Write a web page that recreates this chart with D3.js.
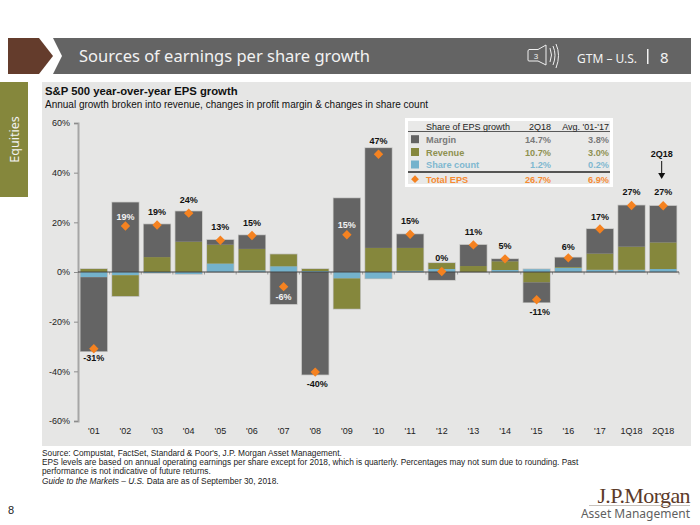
<!DOCTYPE html>
<html><head><meta charset="utf-8">
<script src="https://cdn.jsdelivr.net/npm/d3@7/dist/d3.min.js"></script>
<style>html,body{margin:0;padding:0;background:#fff}svg{display:block}text{font-family:"Liberation Sans",Arial,sans-serif}</style>
</head><body><svg id="c" width="700" height="525"></svg>
<script>
const categories=["'01","'02","'03","'04","'05","'06","'07","'08","'09","'10","'11","'12","'13","'14","'15","'16","'17","1Q18","2Q18"];
const margin=[-29.8,28,13.2,12.2,1.9,5.5,-12.9,-41.3,29.7,40.2,5.5,-3.2,8.5,0.9,-8.0,3.8,9.9,16.6,14.7];
const revenue=[1.2,-8.4,6.0,12.2,7.6,8.6,4.8,0.8,-12.2,9.7,9.2,2.4,2.4,3.5,-4.2,0.3,6.5,9.3,10.7];
const shareCount=[-2.1,-1.3,-0.4,-0.8,3.4,0.7,2.3,0.4,-2.6,-2.6,0.5,1.2,0,0.8,1.1,1.7,0.9,0.9,1.2];
const totalEps=[-30.9,18.5,18.9,23.7,12.8,14.7,-5.9,-40.3,15.0,47.4,15.2,0.2,10.9,5.3,-11.2,5.7,17.3,26.8,26.7];
const epsLabels=["-31%","19%","19%","24%","13%","15%","-6%","-40%","15%","47%","15%","0%","11%","5%","-11%","6%","17%","27%","27%"];
const yTicks=[-60,-40,-20,0,20,40,60];
const legendHeader=["Share of EPS growth","2Q18","Avg. '01-'17"];
const legendNames=["Margin","Revenue","Share count","Total EPS"];
const legend2Q18=["14.7%","10.7%","1.2%","26.7%"];
const legendAvg=["3.8%","3.0%","0.2%","6.9%"];
const footnotes=["Source: Compustat, FactSet, Standard & Poor's, J.P. Morgan Asset Management.",
"EPS levels are based on annual operating earnings per share except for 2018, which is quarterly. Percentages may not sum due to rounding. Past",
"performance is not indicative of future returns."];
// layout helpers (label nudges, px)
const labelDy=[9,-9.5,-13,-13,-13,-13,10,12,-9.5,-13.5,-13.5,-14,-13.5,-13,12,-11,-12.5,-13.5,-13.5];
const labelDx=[0,0,0,0,0,0,0,2,0,0,0,0,0,0,3,0,0,0,0];
const whiteLabel=new Set(["'02","'07","'09"]);

const COL={margin:"#646464",revenue:"#85873c",share:"#74b2cc",eps:"#f58220",panel:"#e6e6e5"};
const svg=d3.select("#c");
// header
svg.append("path").attr("d","M8,38H39L53,56L39,74H8Z").attr("fill","#643c2c");
svg.append("path").attr("d","M53,38H691V74H53L62,56Z").attr("fill","#646464");
svg.append("text").attr("x",79).attr("y",62).attr("fill","#f2f2f2").style("font-family","'Noto Sans'").style("font-size","16.5px").text("Sources of earnings per share growth");
svg.append("text").attr("x",577).attr("y",63).attr("fill","#f2f2f2").style("font-family","'Noto Sans'").style("font-size","12px").text("GTM – U.S.");
svg.append("rect").attr("x",647).attr("y",49).attr("width",1.5).attr("height",15).attr("fill","#f2f2f2");
svg.append("text").attr("x",660).attr("y",63).attr("fill","#f2f2f2").style("font-family","'Noto Sans'").style("font-size","15px").text("8");
const ic=svg.append("g").attr("fill","none").attr("stroke","#f0f0f0").attr("stroke-width",1);
ic.append("path").attr("d","M529,49.5H538L546,45V65L538,61H529Q528,61 528,60V51Q528,50 529,49.5Z");
ic.append("path").attr("d","M550,48Q553,55 550,62M553,46Q557,55 553,65M556,44Q561,55 556,68");
svg.append("text").attr("x",536).attr("y",59).attr("text-anchor","middle").attr("fill","#f0f0f0").style("font-size","8px").text("3");
// side tab
svg.append("rect").attr("x",0).attr("y",82).attr("width",28).attr("height",115).attr("fill","#85873c");
svg.append("text").attr("transform","translate(15,139.5) rotate(-90)").attr("text-anchor","middle").attr("dy","0.35em").attr("fill","#f2f2f2").style("font-family","'Noto Sans'").style("font-size","12.5px").text("Equities");
// panel
svg.append("rect").attr("x",42).attr("y",82).attr("width",649).attr("height",364).attr("fill",COL.panel);
svg.append("text").attr("x",45).attr("y",95).attr("fill","#111").style("font-weight","bold").style("font-size","11.3px").text("S&P 500 year-over-year EPS growth");
svg.append("text").attr("x",45).attr("y",108).attr("fill","#111").style("font-size","10px").text("Annual growth broken into revenue, changes in profit margin & changes in share count");

const x=d3.scaleBand().domain(categories).range([78,679]).paddingInner(0.16).paddingOuter(0.08);
const y=d3.scaleLinear().domain([-60,60]).range([421,123]);
// small category boundary ticks
svg.append("g").selectAll("line").data(categories).join("line")
 .attr("x1",d=>x(d)+x.bandwidth()+x.step()*0.08).attr("x2",d=>x(d)+x.bandwidth()+x.step()*0.08)
 .attr("y1",y(0)).attr("y2",y(0)+2.5).attr("stroke","#888").attr("stroke-width",0.8);
// y axis
const ya=svg.append("g").attr("transform","translate(78,0)").call(d3.axisLeft(y).tickValues(yTicks).tickFormat(d=>d+"%").tickSize(4).tickPadding(4));
ya.select(".domain").attr("stroke","#a6a6a6").attr("stroke-width",2);
ya.selectAll(".tick line").attr("stroke","#8c8c8c");
ya.selectAll("text").attr("fill","#222").style("font-size","9px").style("font-family","'Liberation Sans'");
// x axis labels
const xa=svg.append("g").attr("transform","translate(0,421)").call(d3.axisBottom(x).tickSize(0).tickPadding(7));
xa.select(".domain").remove();
xa.selectAll("text").attr("fill","#222").style("font-size","9px").style("font-family","'Liberation Sans'");
// stacks
const rows=categories.map((c,i)=>({c,margin:margin[i],revenue:revenue[i],share:shareCount[i]}));
const series=d3.stack().keys(["share","revenue","margin"]).offset(d3.stackOffsetDiverging)(rows);
const extents=rows.map((r,i)=>[d3.min(series,s=>s[i][0]),d3.max(series,s=>s[i][1])]);
svg.append("g").selectAll("rect").data(rows).join("rect")
 .attr("x",d=>x(d.c)-0.7).attr("width",x.bandwidth()+1.4)
 .attr("y",(d,i)=>y(extents[i][1])-0.7).attr("height",(d,i)=>y(extents[i][0])-y(extents[i][1])+1.4)
 .attr("fill","#bdbdbb");
svg.append("g").selectAll("g").data(series).join("g").attr("fill",s=>COL[s.key])
 .selectAll("rect").data(s=>s).join("rect")
 .attr("x",d=>x(d.data.c)).attr("width",x.bandwidth())
 .attr("y",d=>y(Math.max(d[0],d[1]))).attr("height",d=>Math.abs(y(d[0])-y(d[1])));
// zero line
svg.append("line").attr("x1",x.range()[0]).attr("x2",x.range()[1]).attr("y1",y(0)).attr("y2",y(0)).attr("stroke","#444").attr("stroke-width",1);
// total diamonds
svg.append("g").selectAll("path").data(totalEps).join("path")
 .attr("d",d3.symbol(d3.symbolSquare,44))
 .attr("transform",(d,i)=>`translate(${x(categories[i])+x.bandwidth()/2},${y(d)}) rotate(45)`)
 .attr("fill",COL.eps);
// labels
svg.append("g").selectAll("text").data(epsLabels).join("text")
 .attr("x",(d,i)=>x(categories[i])+x.bandwidth()/2+labelDx[i])
 .attr("y",(d,i)=>y(totalEps[i])+labelDy[i]).attr("dy","0.35em").attr("text-anchor","middle")
 .attr("fill",(d,i)=>whiteLabel.has(categories[i])?"#f2f2f2":"#111")
 .style("font-weight","bold").style("font-size","9px").text(d=>d);
// arrow annotation
const ax=x("2Q18")+x.bandwidth()/2-1.5;
svg.append("text").attr("x",ax).attr("y",156.5).attr("text-anchor","middle").attr("fill","#111").style("font-weight","bold").style("font-size","9px").text("2Q18");
svg.append("line").attr("x1",ax).attr("x2",ax).attr("y1",161).attr("y2",175).attr("stroke","#111").attr("stroke-width",1);
svg.append("path").attr("d",`M${ax-3.5},173L${ax+3.5},173L${ax},179Z`).attr("fill","#111");
// legend
svg.append("rect").attr("x",405).attr("y",118).attr("width",208).attr("height",69).attr("fill","#fff");
svg.append("rect").attr("x",408).attr("y",121).attr("width",202).attr("height",63).attr("fill","#e9e9e8");
const rowY=[142.7,155.5,168,182.7], legCol=[COL.margin,COL.revenue,COL.share,COL.eps], txtCol=["#7a7a7a","#8f9150","#7fb8d0","#f68b33"];
const hdr=svg.append("g").attr("fill","#222").style("font-size","9px");
hdr.append("text").attr("x",426).attr("y",130).text(legendHeader[0]);
hdr.append("text").attr("x",551).attr("y",130).attr("text-anchor","end").text(legendHeader[1]);
hdr.append("text").attr("x",609).attr("y",130).attr("text-anchor","end").text(legendHeader[2]);
svg.append("line").attr("x1",408).attr("x2",610).attr("y1",131.5).attr("y2",131.5).attr("stroke","#333").attr("stroke-width",0.8);
svg.append("line").attr("x1",408).attr("x2",610).attr("y1",172).attr("y2",172).attr("stroke","#222").attr("stroke-width",1.5);
legendNames.forEach((n,i)=>{
  const g=svg.append("g").attr("fill",txtCol[i]).style("font-weight","bold").style("font-size","9.2px");
  g.append("text").attr("x",426).attr("y",rowY[i]).text(n);
  g.append("text").attr("x",551).attr("y",rowY[i]).attr("text-anchor","end").text(legend2Q18[i]);
  g.append("text").attr("x",609).attr("y",rowY[i]).attr("text-anchor","end").text(legendAvg[i]);
  if(i<3) svg.append("rect").attr("x",411).attr("y",rowY[i]-7.5).attr("width",8).attr("height",8).attr("fill",legCol[i]);
  else svg.append("path").attr("d",d3.symbol(d3.symbolSquare,30)).attr("transform",`translate(415,${rowY[i]-3.5}) rotate(45)`).attr("fill",legCol[i]);
});
// footnotes
const fn=svg.append("g").attr("fill","#222").style("font-size","8.3px");
footnotes.forEach((t,i)=>fn.append("text").attr("x",42).attr("y",456+i*9.2).text(t));
const g4=fn.append("text").attr("x",42).attr("y",456+3*9.2);
g4.append("tspan").style("font-style","italic").text("Guide to the Markets – U.S. ");
g4.append("tspan").text("Data are as of September 30, 2018.");
svg.append("text").attr("x",8).attr("y",514).attr("fill","#222").style("font-size","11px").text("8");
// logo
svg.append("text").attr("x",690).attr("y",503).attr("text-anchor","end").attr("fill","#5b3a29").style("font-family","'Liberation Serif'").style("font-size","22px").style("letter-spacing","-0.6px").text("J.P.Morgan");
svg.append("line").attr("x1",589).attr("x2",690).attr("y1",505.5).attr("y2",505.5).attr("stroke","#b0a79f").attr("stroke-width",0.7);
svg.append("text").attr("x",690).attr("y",518).attr("text-anchor","end").attr("fill","#5f5f5f").style("font-family","'Noto Sans'").style("font-size","12px").text("Asset Management");
</script></body></html>
